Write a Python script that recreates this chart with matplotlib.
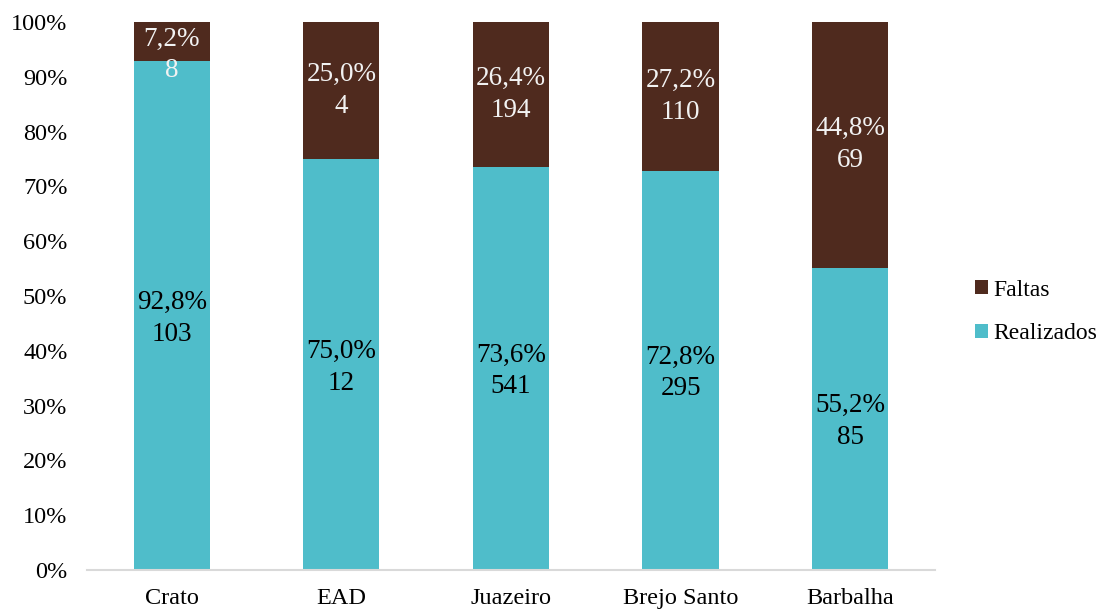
import numpy as np
import matplotlib.pyplot as plt

plt.rcParams['font.family'] = ['Liberation Serif', 'DejaVu Serif']

cats = ['Crato', 'EAD', 'Juazeiro', 'Brejo Santo', 'Barbalha']
realizados = [103, 12, 541, 295, 85]
faltas = [8, 4, 194, 110, 69]
pct_real = ['92,8%', '75,0%', '73,6%', '72,8%', '55,2%']
pct_falt = ['7,2%', '25,0%', '26,4%', '27,2%', '44,8%']

teal = '#4FBDCA'
brown = '#4F2A1E'

r = np.array(realizados, dtype=float)
f = np.array(faltas, dtype=float)
tot = r + f
pr = r / tot
pf = f / tot
x = np.arange(len(cats))

fig = plt.figure(figsize=(11, 6.09), dpi=100)
ax = fig.add_axes([0.079, 0.064, 0.771, 0.9])

ax.bar(x, pr, width=0.45, color=teal, label='Realizados')
ax.bar(x, pf, width=0.45, bottom=pr, color=brown, label='Faltas')

for i in range(len(cats)):
    ax.text(x[i], pr[i] / 2 - 0.005, pct_real[i] + '\n' + str(realizados[i]),
            ha='center', va='center', fontsize=19.5, color='black', linespacing=1.35)
    # keep the top label inside the axes when the segment is thin
    yc = min(pr[i] + pf[i] / 2, 0.94)
    ax.text(x[i], yc, pct_falt[i] + '\n' + str(faltas[i]),
            ha='center', va='center', fontsize=19.5, color='#F2F2F2', linespacing=1.35)

ax.set_xlim(-0.5, 4.5)
ax.set_ylim(0, 1)
ax.set_yticks(np.arange(0, 1.01, 0.1))
ax.set_yticklabels([f'{int(round(v*100))}%' for v in np.arange(0, 1.01, 0.1)])
ax.set_xticks(x)
ax.set_xticklabels(cats)
ax.tick_params(axis='both', length=0, labelsize=17.5)
ax.tick_params(axis='x', pad=13)
ax.tick_params(axis='y', pad=14)
for s in ['top', 'right', 'left']:
    ax.spines[s].set_visible(False)
ax.spines['bottom'].set_color('#D9D9D9')
ax.spines['bottom'].set_linewidth(1.5)

h, l = ax.get_legend_handles_labels()
fig.legend(h[::-1], l[::-1], loc='center left', bbox_to_anchor=(0.882, 0.488),
           frameon=False, fontsize=17, handlelength=0.55, handleheight=0.55,
           handletextpad=0.25, labelspacing=0.95, borderpad=0.2, borderaxespad=0)

fig.savefig('out.png', dpi=100)
